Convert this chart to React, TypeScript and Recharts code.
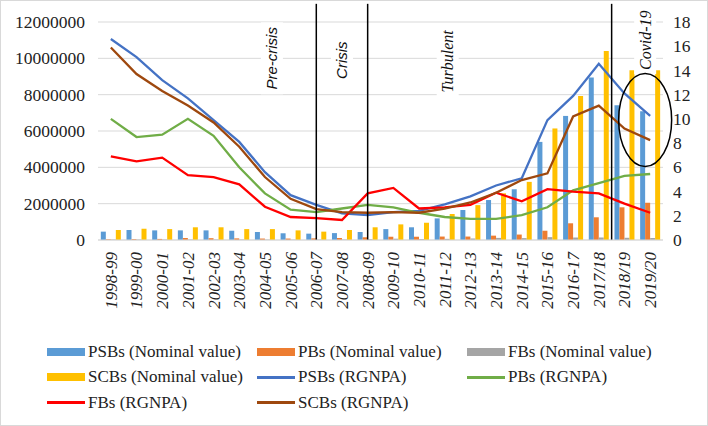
import {
  Bar,
  CartesianGrid,
  ComposedChart,
  Legend,
  Line,
  ReferenceDot,
  ReferenceLine,
  XAxis,
  YAxis,
} from "recharts";

const YEARS = [
  "1998-99", "1999-00", "2000-01", "2001-02", "2002-03", "2003-04", "2004-05", "2005-06",
  "2006-07", "2007-08", "2008-09", "2009-10", "2010-11", "2011-12", "2012-13", "2013-14",
  "2014-15", "2015-16", "2016-17", "2017/18", "2018/19", "2019/20",
];

// nominal GNPA values (left axis)
const PSB_NOMINAL = [
  460000, 550000, 530000, 530000, 530000, 510000, 440000, 370000, 350000, 380000, 440000,
  600000, 700000, 1190000, 1650000, 2200000, 2790000, 5400000, 6830000, 8940000, 7420000, 7090000,
];
const PB_NOMINAL = [
  40000, 50000, 60000, 110000, 100000, 90000, 80000, 80000, 90000, 110000, 150000,
  180000, 180000, 190000, 190000, 240000, 300000, 510000, 920000, 1250000, 1800000, 2050000,
];
const FB_NOMINAL = [
  27000, 26000, 27000, 27000, 28000, 29000, 22000, 19000, 23000, 28000, 45000,
  71000, 51000, 63000, 84000, 116000, 104000, 158000, 136000, 138000, 122000, 110000,
];
const SCB_NOMINAL = [
  550000, 620000, 600000, 700000, 700000, 600000, 600000, 530000, 460000, 550000, 700000,
  860000, 950000, 1430000, 1920000, 2570000, 3200000, 6140000, 7920000, 10400000, 9350000, 9350000,
];

// gross NPA ratios in % (right axis)
const PSB_RATIO = [
  16.6, 15.1, 13.2, 11.7, 9.9, 8.1, 5.6, 3.7, 2.9, 2.2, 2.05,
  2.3, 2.4, 2.95, 3.6, 4.5, 5.1, 9.9, 11.9, 14.55, 12.1, 10.25,
];
const PB_RATIO = [
  10.0, 8.5, 8.7, 10.0, 8.6, 6.0, 3.85, 2.5, 2.3, 2.6, 2.9,
  2.7, 2.25, 1.9, 1.75, 1.75, 2.05, 2.7, 4.1, 4.7, 5.3, 5.45,
];
const FB_RATIO = [
  6.9, 6.5, 6.8, 5.35, 5.2, 4.6, 2.75, 1.9, 1.8, 1.65, 3.85,
  4.3, 2.6, 2.7, 2.9, 3.9, 3.2, 4.2, 4.0, 3.85, 3.0, 2.25,
];
const SCB_RATIO = [
  15.9, 13.7, 12.3, 11.1, 9.7, 7.7, 5.2, 3.4, 2.55, 2.3, 2.25,
  2.3, 2.25, 2.6, 3.1, 3.9, 4.95, 5.5, 10.2, 11.1, 9.2, 8.25,
];

const LEFT_TICKS = [0, 2000000, 4000000, 6000000, 8000000, 10000000, 12000000];
const RIGHT_TICKS = [0, 2, 4, 6, 8, 10, 12, 14, 16, 18];

const SERIES = [
  { key: "psbNom", name: "PSBs (Nominal value)", color: "#5B9BD5", kind: "bar", values: PSB_NOMINAL },
  { key: "pbNom", name: "PBs (Nominal value)", color: "#ED7D31", kind: "bar", values: PB_NOMINAL },
  { key: "fbNom", name: "FBs (Nominal value)", color: "#A5A5A5", kind: "bar", values: FB_NOMINAL },
  { key: "scbNom", name: "SCBs (Nominal value)", color: "#FFC000", kind: "bar", values: SCB_NOMINAL },
  { key: "psbRatio", name: "PSBs (RGNPA)", color: "#4472C4", kind: "line", values: PSB_RATIO },
  { key: "pbRatio", name: "PBs (RGNPA)", color: "#70AD47", kind: "line", values: PB_RATIO },
  { key: "fbRatio", name: "FBs (RGNPA)", color: "#FF0000", kind: "line", values: FB_RATIO },
  { key: "scbRatio", name: "SCBs (RGNPA)", color: "#9E480E", kind: "line", values: SCB_RATIO },
];

const PERIOD_LINES = ["2006-07", "2008-09"];

const PHASES = [
  { x: "2004-05", y: 15, text: "Pre-crisis", dx: 7, len: 64, font: "Liberation Sans", size: 15 },
  { x: "2007-08", y: 14.85, text: "Crisis", dx: 0, len: 38, font: "Liberation Sans", size: 15 },
  { x: "2011-12", y: 14.75, text: "Turbulent", dx: 3, len: 62, font: "Liberation Serif", size: 16 },
  { x: "2019/20", y: 16.5, text: "Covid-19", dx: -5, len: 60, font: "Liberation Serif", size: 16 },
];

const data = YEARS.map((year, i) => {
  const row: Record<string, string | number> = { year };
  SERIES.forEach((s) => {
    row[s.key] = s.values[i];
  });
  return row;
});

const SERIF = "Liberation Serif";

function YearTick({ x, y, payload }: any) {
  return (
    <text
      x={x}
      y={y}
      transform={`rotate(-90, ${x}, ${y})`}
      textAnchor="end"
      dy="0.35em"
      fontFamily={SERIF}
      fontStyle="italic"
      fontSize={17}
      fill="#222"
    >
      {payload.value}
    </text>
  );
}

function ValueTick({ x, y, payload, anchor }: any) {
  return (
    <text x={x} y={y} textAnchor={anchor} dy="0.35em" fontFamily={SERIF} fontSize={17.5} fill="#222">
      {payload.value}
    </text>
  );
}

function PhaseLabel(props: any) {
  const { cx, cy, phase } = props;
  const x = cx + phase.dx;
  return (
    <g>
      <rect x={x - 11} y={cy - phase.len / 2 - 4} width={22} height={phase.len + 8} fill="#fff" />
      <text
        x={x}
        y={cy}
        transform={`rotate(-90, ${x}, ${cy})`}
        textAnchor="middle"
        dy="0.35em"
        fontFamily={phase.font}
        fontStyle="italic"
        fontSize={phase.size}
        fill="#111"
      >
        {phase.text}
      </text>
    </g>
  );
}

function LegendBox() {
  return (
    <div
      style={{
        display: "grid",
        gridTemplateColumns: "210px 210px 210px",
        paddingLeft: 47,
        fontFamily: SERIF,
        fontSize: 17,
        color: "#222",
      }}
    >
      {SERIES.map((s) => (
        <div key={s.key} style={{ display: "flex", alignItems: "center", height: 25.5, whiteSpace: "nowrap" }}>
          <span
            style={{
              display: "inline-block",
              width: 38,
              height: s.kind === "bar" ? 8 : 3,
              background: s.color,
              marginRight: 3,
            }}
          />
          <span>{s.name}</span>
        </div>
      ))}
    </div>
  );
}

export default function App() {
  return (
    <div
      style={{
        position: "absolute",
        left: 0,
        top: 0,
        width: 708,
        height: 426,
        background: "#fff",
        outline: "1px solid #d9d9d9",
        outlineOffset: -1,
      }}
    >
      <ComposedChart
        width={708}
        height={426}
        data={data}
        margin={{ top: 22, right: 0, left: 0, bottom: 91 }}
        barCategoryGap="11%"
        barGap={0}
      >
        <CartesianGrid yAxisId="left" vertical={false} stroke="#d9d9d9" strokeWidth={1} />
        <XAxis
          dataKey="year"
          interval={0}
          height={95}
          tickSize={0}
          tickLine={false}
          tickMargin={12}
          axisLine={{ stroke: "#d9d9d9" }}
          tick={<YearTick />}
        />
        <YAxis
          yAxisId="left"
          domain={[0, 12000000]}
          ticks={LEFT_TICKS}
          interval={0}
          width={98}
          tickSize={0}
          tickMargin={13}
          axisLine={false}
          tickLine={false}
          tick={<ValueTick anchor="end" />}
        />
        <YAxis
          yAxisId="right"
          orientation="right"
          domain={[0, 18]}
          ticks={RIGHT_TICKS}
          interval={0}
          width={45}
          tickSize={0}
          tickMargin={10}
          axisLine={false}
          tickLine={false}
          tick={<ValueTick anchor="start" />}
        />
        {PHASES.map((p) => (
          <ReferenceDot
            key={p.text}
            yAxisId="right"
            x={p.x}
            y={p.y}
            ifOverflow="visible"
            shape={(props: any) => <PhaseLabel {...props} phase={p} />}
          />
        ))}
        {SERIES.filter((s) => s.kind === "bar").map((s) => (
          <Bar
            key={s.key}
            yAxisId="left"
            dataKey={s.key}
            name={s.name}
            fill={s.color}
            isAnimationActive={false}
          />
        ))}
        {SERIES.filter((s) => s.kind === "line").map((s) => (
          <Line
            key={s.key}
            yAxisId="right"
            dataKey={s.key}
            name={s.name}
            type="linear"
            stroke={s.color}
            strokeWidth={2.3}
            dot={false}
            isAnimationActive={false}
          />
        ))}
        {PERIOD_LINES.map((yr) => (
          <ReferenceLine
            key={yr}
            yAxisId="left"
            segment={[
              { x: yr, y: 0 },
              { x: yr, y: 13000000 },
            ]}
            ifOverflow="visible"
            stroke="#000"
            strokeWidth={1.5}
          />
        ))}
        <ReferenceLine
          yAxisId="left"
          position="start"
          segment={[
            { x: "2018/19", y: 0 },
            { x: "2018/19", y: 13000000 },
          ]}
          ifOverflow="visible"
          stroke="#000"
          strokeWidth={1.5}
        />
        <ReferenceDot
          yAxisId="right"
          x="2019/20"
          y={9.9}
          ifOverflow="visible"
          shape={(props: any) => (
            <ellipse cx={props.cx - 5} cy={props.cy} rx={26.5} ry={46.5} fill="none" stroke="#000" strokeWidth={1.5} />
          )}
        />
        <Legend
          layout="vertical"
          verticalAlign="middle"
          align="center"
          content={() => <LegendBox />}
          wrapperStyle={{ position: "absolute", left: 0, top: 339, width: 708, height: 80 }}
        />
      </ComposedChart>
    </div>
  );
}
